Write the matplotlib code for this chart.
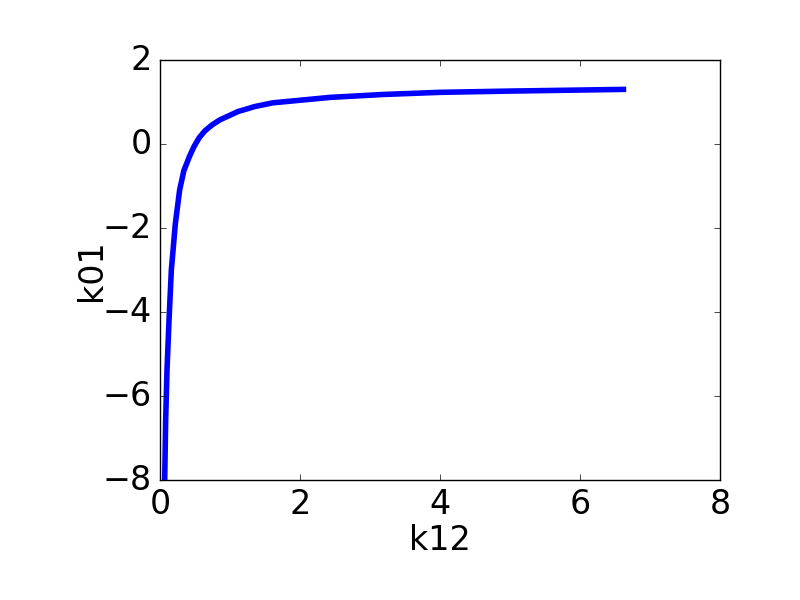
import matplotlib
matplotlib.use('Agg')
import matplotlib.pyplot as plt

# values
k12 = [0.067, 0.081, 0.100, 0.129, 0.162, 0.219, 0.280, 0.340, 0.420, 0.486,
       0.560, 0.640, 0.740, 0.850, 1.110, 1.350, 1.610, 2.430, 3.200, 4.000,
       5.000, 6.620]
k01 = [-8.0, -6.57, -5.38, -4.19, -3.0, -1.9, -1.10, -0.64, -0.30, -0.06,
       0.15, 0.31, 0.45, 0.57, 0.77, 0.89, 0.98, 1.11, 1.18, 1.23,
       1.26, 1.30]

plt.style.use('classic')
plt.rcParams['font.family'] = ['DejaVu Sans']
plt.rcParams['font.size'] = 24

fig = plt.figure(figsize=(8, 6), dpi=100, facecolor='white')
ax = fig.add_axes([0.2, 0.2, 0.7, 0.7])
ax.plot(k12, k01, color='blue', lw=4)

ax.set_xlim(0, 8)
ax.set_ylim(-8, 2)
ax.set_xticks([0, 2, 4, 6, 8])
ax.set_yticks([-8, -6, -4, -2, 0, 2])
ax.tick_params(labelsize=24, direction='in', length=4, top=True, right=True, pad=6)

ax.set_xlabel('k12', fontsize=24, labelpad=2)
ax.set_ylabel('k01', fontsize=24, labelpad=-4)

fig.savefig('out.png', dpi=100, facecolor='white')
